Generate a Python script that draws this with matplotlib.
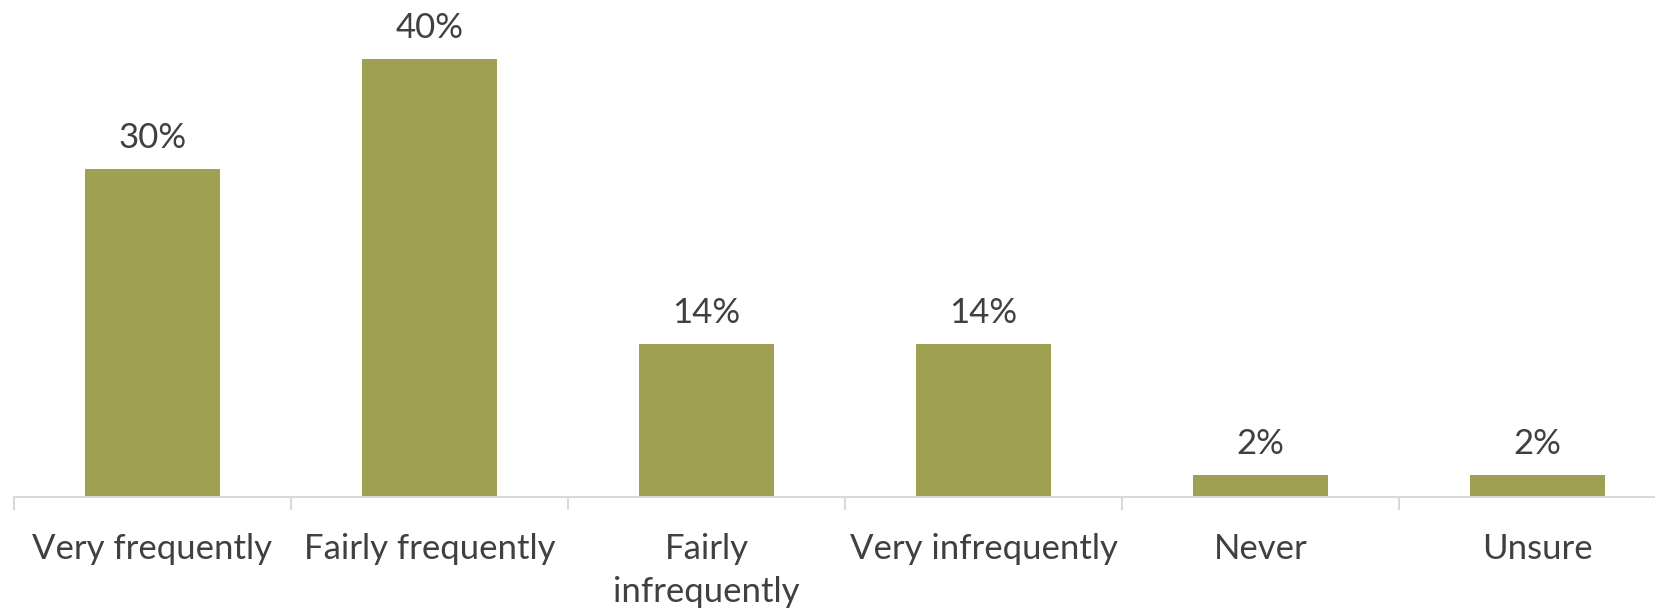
import numpy as np
import matplotlib.pyplot as plt

categories = ["Very frequently", "Fairly frequently", "Fairly\ninfrequently",
              "Very infrequently", "Never", "Unsure"]
values = [30, 40, 14, 14, 2, 2]

bar_color = "#A0A052"
text_color = "#404040"
axis_color = "#D9D9D9"

plt.rcParams["font.family"] = ["Lato", "DejaVu Sans"]

fig = plt.figure(figsize=(16.55, 6.14), dpi=100)
ax = fig.add_axes([14 / 1655, 117 / 614, 1662 / 1655, 497 / 614])

x = np.arange(len(categories))
bars = ax.bar(x, values, width=0.485, color=bar_color)

for b, v in zip(bars, values):
    ax.annotate(f"{v}%", (b.get_x() + b.get_width() / 2, b.get_height()),
                xytext=(0, 15), textcoords="offset points",
                ha="center", va="baseline", fontsize=25, color=text_color)

ax.set_xlim(-0.5, len(categories) - 0.5)
ax.set_ylim(0, 45.4)

ax.set_xticks(x)
ax.set_xticklabels(categories, fontsize=25, color=text_color, linespacing=1.4)
ax.tick_params(axis="x", which="major", length=0, pad=26)
ax.set_xticks(np.arange(len(categories) + 1) - 0.5, minor=True)
ax.tick_params(axis="x", which="minor", length=9, width=1.5, color=axis_color)

ax.set_yticks([])
for side in ["top", "right", "left"]:
    ax.spines[side].set_visible(False)
ax.spines["bottom"].set_color(axis_color)
ax.spines["bottom"].set_linewidth(1.5)

fig.savefig("out.png", dpi=100)
